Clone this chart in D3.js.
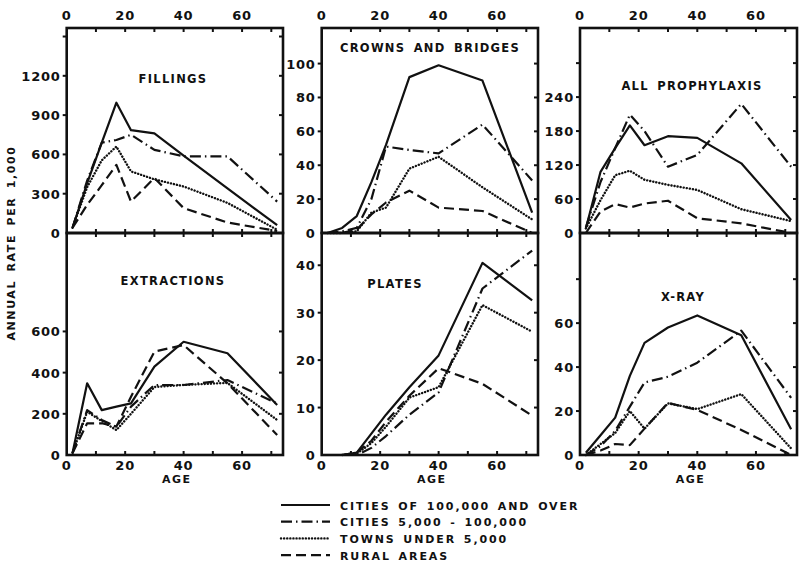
<!DOCTYPE html>
<html>
<head>
<meta charset="utf-8">
<script src="https://cdn.jsdelivr.net/npm/d3@7"></script>
<style>
  body { margin: 0; background: #fff; }
  text { font-family: "DejaVu Sans", sans-serif; font-weight: bold; fill: #111; }
</style>
</head>
<body>
<script>
// ages of the groups (x values shared by all panels)
const ages = [2, 7, 12, 17, 22, 30, 40, 55, 72];

// series, in legend order
const seriesNames = ["CITIES OF 100,000 AND OVER", "CITIES 5,000 - 100,000", "TOWNS UNDER 5,000", "RURAL AREAS"];

// rate per 1,000, one row per series
const fillings = [
  [40, 380, 690, 995, 785, 760, 590, 340, 60],
  [40, 400, 690, 710, 750, 635, 585, 585, 240],
  [40, 350, 555, 660, 470, 410, 355, 230, 25],
  [40, 215, 365, 520, 240, 420, 190, 80, 15]
];
const crowns = [
  [0, 3, 10, 30, 52, 92, 99, 90, 12],
  [0, 1, 3, 20, 51, 49, 47, 64, 31],
  [0, 0, 1, 12, 15, 38, 45, 27, 8],
  [0, 0, 2, 11, 18, 25, 15, 13, 0]
];
const prophylaxis = [
  [8, 108, 150, 190, 155, 171, 168, 123, 23],
  [10, 90, 150, 209, 180, 117, 138, 228, 117],
  [8, 58, 102, 110, 94, 85, 76, 42, 21],
  [0, 38, 51, 45, 52, 57, 26, 17, 0]
];
const extractions = [
  [10, 348, 218, 235, 251, 429, 550, 494, 243],
  [10, 218, 170, 137, 235, 340, 340, 364, 250],
  [10, 210, 165, 121, 200, 330, 340, 350, 170],
  [10, 154, 154, 138, 283, 502, 534, 348, 97]
];
const plates = [
  [null, 0, 0.5, 4.5, 8.5, 14.3, 21, 40.5, 32.6],
  [null, 0, 0, 1.5, 4, 8.5, 13.2, 35.1, 43.1],
  [null, 0, 0.3, 2.5, 6, 12.1, 14.3, 31.6, 26],
  [null, 0, 0.5, 3, 7, 12.5, 18.3, 15, 8.3]
];
const xray = [
  [1, 9, 17, 36, 51, 58, 63.5, 54.5, 11.7],
  [0, 4, 11, 22, 33, 35.6, 42, 56.6, 26],
  [0, 5, 10, 20, 12, 23.5, 20.9, 27.7, 3],
  [0, 2, 5, 4.5, 12, 23.7, 20.5, 11.4, 0]
];

const xTickLabels = [0, 20, 40, 60];
const xTicks = [10, 20, 30, 40, 50, 60, 70];

// panel layout
const width = 799, height = 564;
const cols = [[66.7, 283], [321.7, 538], [580, 797]];
const rows = [[28, 233], [233, 455]];

const panels = [
  { title: "FILLINGS", data: fillings, col: 0, row: 0, yMax: 1565, labels: [0, 300, 600, 900, 1200], ticks: [300, 600, 900, 1200, 1500], tx: 173, ty: 78 },
  { title: "CROWNS AND BRIDGES", data: crowns, col: 1, row: 0, yMax: 121, labels: [0, 20, 40, 60, 80, 100], ticks: [20, 40, 60, 80, 100], tx: 430, ty: 47 },
  { title: "ALL PROPHYLAXIS", data: prophylaxis, col: 2, row: 0, yMax: 362, labels: [0, 60, 120, 180, 240], ticks: [60, 120, 180, 240, 300], tx: 692, ty: 85 },
  { title: "EXTRACTIONS", data: extractions, col: 0, row: 1, yMax: 1078, labels: [0, 200, 400, 600], ticks: [200, 400, 600], tx: 173, ty: 280 },
  { title: "PLATES", data: plates, col: 1, row: 1, yMax: 46.8, labels: [0, 10, 20, 30, 40], ticks: [10, 20, 30, 40], tx: 395, ty: 283 },
  { title: "X-RAY", data: xray, col: 2, row: 1, yMax: 101, labels: [0, 20, 40, 60], ticks: [20, 40, 60, 80], tx: 683, ty: 296 }
];

// line styles for each series
const styles = [
  { dash: null, width: 2.2, cap: "butt" },
  { dash: "11,4,1.5,4", width: 2.2, cap: "butt" },
  { dash: "0.1,3", width: 2.4, cap: "round" },
  { dash: "10,5", width: 2.2, cap: "butt" }
];

const svg = d3.select("body").append("svg")
  .attr("width", width)
  .attr("height", height);

panels.forEach(p => {
  const [x0, x1] = cols[p.col];
  const [y0, y1] = rows[p.row];
  const x = d3.scaleLinear().domain([0, 74]).range([x0, x1]);
  const y = d3.scaleLinear().domain([0, p.yMax]).range([y1, y0]);
  const g = svg.append("g");

  // inward ticks on top and bottom
  g.selectAll(".xt").data(xTicks).enter().append("line")
    .attr("x1", d => x(d)).attr("x2", d => x(d))
    .attr("y1", y0).attr("y2", y0 + 4)
    .attr("stroke", "#111").attr("stroke-width", 2);
  g.selectAll(".xb").data(xTicks).enter().append("line")
    .attr("x1", d => x(d)).attr("x2", d => x(d))
    .attr("y1", y1).attr("y2", y1 - 4)
    .attr("stroke", "#111").attr("stroke-width", 2);

  // left ticks outward, right ticks inward
  g.selectAll(".yl").data(p.ticks).enter().append("line")
    .attr("x1", x0).attr("x2", x0 - 4)
    .attr("y1", d => y(d)).attr("y2", d => y(d))
    .attr("stroke", "#111").attr("stroke-width", 2);
  g.selectAll(".yr").data(p.ticks).enter().append("line")
    .attr("x1", x1).attr("x2", x1 - 4)
    .attr("y1", d => y(d)).attr("y2", d => y(d))
    .attr("stroke", "#111").attr("stroke-width", 2);

  g.selectAll(".yLab").data(p.labels).enter().append("text")
    .attr("x", x0 - 6)
    .attr("y", d => y(d) + 5)
    .attr("text-anchor", "end")
    .style("font-size", "13px")
    .style("letter-spacing", "0.8px")
    .text(d => d);

  // frame
  g.append("rect")
    .attr("x", x0).attr("y", y0)
    .attr("width", x1 - x0).attr("height", y1 - y0)
    .attr("fill", "none")
    .attr("stroke", "#111")
    .attr("stroke-width", 2.6);

  // x labels on top row (top edge) and bottom row (bottom edge)
  const labY = p.row === 0 ? y0 - 8 : y1 + 15;
  g.selectAll(".xLab").data(xTickLabels).enter().append("text")
    .attr("x", d => x(d))
    .attr("y", labY)
    .attr("text-anchor", "middle")
    .style("font-size", "13px")
    .style("letter-spacing", "0.8px")
    .text(d => d);

  if (p.row === 1) {
    g.append("text")
      .attr("x", (x0 + x1) / 2 + 2)
      .attr("y", y1 + 28)
      .attr("text-anchor", "middle")
      .style("font-size", "11px")
      .style("letter-spacing", "1.5px")
      .text("AGE");
  }

  g.append("text")
    .attr("x", p.tx).attr("y", p.ty + 5)
    .attr("text-anchor", "middle")
    .style("font-size", "11.5px")
    .style("letter-spacing", "1.3px")
    .style("word-spacing", "3px")
    .text(p.title);

  const line = d3.line()
    .defined(d => d[1] !== null)
    .x(d => x(d[0]))
    .y(d => y(d[1]));

  p.data.forEach((vals, i) => {
    const s = styles[i];
    g.append("path")
      .datum(ages.map((a, j) => [a, vals[j]]))
      .attr("d", line)
      .attr("fill", "none")
      .attr("stroke", "#111")
      .attr("stroke-width", s.width)
      .attr("stroke-linecap", s.cap)
      .attr("stroke-linejoin", "round")
      .attr("stroke-dasharray", s.dash);
  });
});

// y axis title
svg.append("text")
  .attr("transform", "translate(15,243) rotate(-90)")
  .attr("text-anchor", "middle")
  .style("font-size", "11px")
  .style("letter-spacing", "1.6px")
  .style("word-spacing", "3px")
  .text("ANNUAL RATE PER 1,000");

// legend
const legend = svg.append("g");
seriesNames.forEach((name, i) => {
  const ly = 505 + i * 16.7;
  const s = styles[i];
  legend.append("line")
    .attr("x1", 281).attr("x2", 330)
    .attr("y1", ly).attr("y2", ly)
    .attr("stroke", "#111")
    .attr("stroke-width", s.width)
    .attr("stroke-linecap", s.cap)
    .attr("stroke-dasharray", s.dash);
  legend.append("text")
    .attr("x", 340).attr("y", ly + 4.5)
    .style("font-size", "11px")
    .style("letter-spacing", "1.9px")
    .style("word-spacing", "2px")
    .text(name);
});
</script>
</body>
</html>
